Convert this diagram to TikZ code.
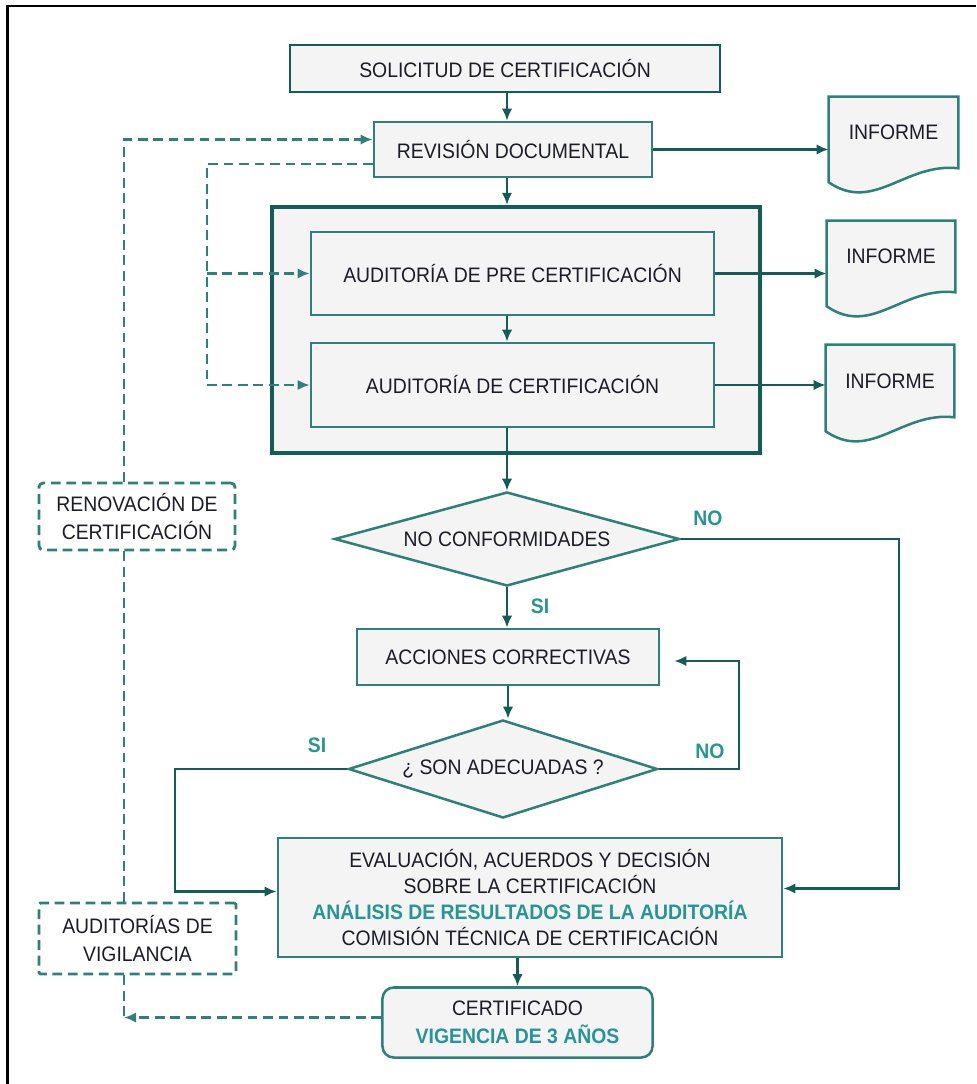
\documentclass[tikz,border=0pt]{standalone}
\usepackage{fontspec}
\setmainfont{Liberation Sans}[FakeStretch=0.925]
\usepackage{xcolor}
\usetikzlibrary{shapes.geometric, arrows.meta, positioning,
                backgrounds, calc}
\definecolor{tealdark}{RGB}{20,92,86}
\definecolor{tealbox}{RGB}{48,128,122}
\definecolor{teallbl}{RGB}{38,150,148}
\definecolor{boxgray}{RGB}{244,244,244}
\definecolor{inkgray}{RGB}{28,28,40}
\tikzset{
  box/.style = {
    rectangle, draw=tealbox, fill=boxgray, line width=1.8pt,
    text=inkgray, align=center, inner sep=0pt
  },
  decision/.style = {
    diamond, draw=tealbox, fill=boxgray, line width=1.8pt,
    text=inkgray, inner sep=0pt
  },
  dbox/.style = {
    rectangle, rounded corners=3pt, draw=tealbox, fill=white,
    line width=2pt, dash pattern=on 7pt off 4pt,
    text=inkgray, align=center, inner sep=0pt
  },
  arrow/.style  = {-{Latex[length=3mm,width=2.6mm]}, draw=tealdark, line width=1.8pt},
  darrow/.style = {-{Latex[length=3mm,width=2.6mm]}, draw=tealbox, line width=2pt,
                   dash pattern=on 7pt off 4pt},
  dline/.style  = {draw=tealbox, line width=2pt, dash pattern=on 7pt off 4pt}
}

\begin{document}
\begin{tikzpicture}[
  x=0.025cm, y=-0.025cm,
  every node/.style={font=\fontsize{14.9}{18.3}\selectfont},
  lbl/.style={font=\fontsize{14.9}{18}\selectfont\bfseries, text=teallbl},
  docbox/.style={rectangle, draw=none, text=inkgray, inner sep=0pt},
  docline/.style={draw=tealbox, fill=boxgray, line width=1.8pt}
]
\useasboundingbox (0,0) rectangle (976,1084);

%% frame
\draw[line width=2pt, black] (7.5,1084) -- (7.5,6) -- (976,6);

%% Main column
\node[box, draw=tealdark, minimum width=10.75cm, minimum height=1.175cm]
      at (505,68.5)   (sol)  {SOLICITUD DE CERTIFICACIÓN};
\node[box, minimum width=6.95cm, minimum height=1.375cm]
      at (513,149.5)  (rev)  {REVISIÓN DOCUMENTAL};
\node[box, draw=tealdark, line width=3pt,
      minimum width=12.2cm, minimum height=6.15cm]
      at (516,330)    (grp)  {};
\node[box, minimum width=10.075cm, minimum height=2.075cm]
      at (512.5,273.5) (pre) {AUDITORÍA DE PRE CERTIFICACIÓN};
\node[box, minimum width=10.075cm, minimum height=2.1cm]
      at (512.5,385)  (cer)  {AUDITORÍA DE CERTIFICACIÓN};
\node[decision, aspect=3.67, minimum width=8.625cm, minimum height=2.35cm]
      at (507,539)    (nc)   {NO CONFORMIDADES};
\node[box, minimum width=7.55cm, minimum height=1.4cm]
      at (508,657)    (acc)  {ACCIONES CORRECTIVAS};
\node[decision, aspect=3.15, minimum width=7.725cm, minimum height=2.45cm]
      at (503,769)    (ade)  {¿ SON ADECUADAS ?};
\node[box, minimum width=12.6cm, minimum height=2.975cm]
      at (530,897.5)  (eva)  {EVALUACIÓN, ACUERDOS Y DECISIÓN\\
      SOBRE LA CERTIFICACIÓN\\
      {\color{teallbl}\bfseries ANÁLISIS DE RESULTADOS DE LA AUDITORÍA}\\
      COMISIÓN TÉCNICA DE CERTIFICACIÓN};
\node[box, rounded corners=8pt, minimum width=6.75cm, minimum height=1.75cm,
      font=\fontsize{14.9}{20}\selectfont]
      at (517.5,1022.5) (cert) {CERTIFICADO\\
      {\color{teallbl}\bfseries VIGENCIA DE 3 AÑOS}};

%% Reports
\node[docbox, minimum width=3.225cm, minimum height=1.775cm]
      at (893.5,132.5) (inf1) {INFORME};
\node[docbox, minimum width=3.2cm, minimum height=1.775cm]
      at (891,256.5)  (inf2) {INFORME};
\node[docbox, minimum width=3.2cm, minimum height=1.8cm]
      at (890,381)    (inf3) {INFORME};
\begin{scope}[on background layer]
\foreach \d in {inf1,inf2,inf3}
  \draw[docline] (\d.south east) -- (\d.north east) -- (\d.north west)
    -- ($(\d.south west)+(0,14)$)
    .. controls ($(\d.south west)+(45,45)$) and ($(\d.south east)+(-53,-6)$)
    .. (\d.south east) -- cycle;
\end{scope}

%% Dashed side boxes
\node[dbox, minimum width=4.9cm, minimum height=1.675cm,
      font=\fontsize{14.9}{20}\selectfont]
      at (137,516.5)  (ren)  {RENOVACIÓN DE\\CERTIFICACIÓN};
\node[dbox, rounded corners=1pt, minimum width=4.925cm, minimum height=1.775cm,
      font=\fontsize{14.9}{20}\selectfont]
      at (137.5,938.5) (vig) {AUDITORÍAS DE\\VIGILANCIA};

\coordinate (sp) at (507,0);
\coordinate (lx) at (124,0);
\coordinate (mx) at (207,0);

%% Spine arrows
\draw[arrow] (sp|-sol.south) -- (sp|-rev.north);
\draw[arrow] (sp|-rev.south) -- (sp|-grp.north);
\draw[arrow] (sp|-pre.south) -- (sp|-cer.north);
\draw[arrow] (sp|-cer.south) -- (nc.north);
\draw[arrow] (nc.south) -- (nc.south|-acc.north);
\draw[arrow] (acc.south) -- (acc.south|-ade.north);
\draw[arrow] (cert.north|-eva.south) -- (cert.north);

%% Reports arrows
\draw[arrow] (rev.east) -- (inf1.west|-rev.east);
\draw[arrow] (pre.east) -- (inf2.west|-pre.east);
\draw[arrow] (cer.east) -- (inf3.west|-cer.east);

%% Decisions
\draw[arrow] (nc.east) -- ++(218,0) |- ($(eva.east)+(0,-9)$);
\draw[arrow] (ade.east) -- ++(80,0) |- ($(acc.east)+(14,4)$);
\draw[arrow] (ade.west) -- ++(-172,0) |- ($(eva.west)+(0,-6)$);
\node[lbl] at (708,518) (lno1) {NO};
\node[lbl] at (540,606) (lsi1) {SI};
\node[lbl] at (710,751) (lno2) {NO};
\node[lbl] at (317,745) (lsi2) {SI};

%% Dashed loops
\draw[darrow] (ren.north-|lx) |- ($(rev.west)+(0,-10)$);
\draw[dline]  (vig.north-|lx) -- (ren.south-|lx);
\draw[dline]  (vig.south-|lx) -- ($(lx|-cert.west)+(0,-5)$);
\draw[darrow] ($(cert.west)+(0,-5)$) -- ($(lx|-cert.west)+(0,-5)$);
\draw[dline]  ($(rev.west)+(0,14.5)$) -| (mx|-cer.west);
\draw[darrow] (mx|-pre.west) -- (pre.west);
\draw[darrow] (mx|-cer.west) -- (cer.west);

\end{tikzpicture}
\end{document}
